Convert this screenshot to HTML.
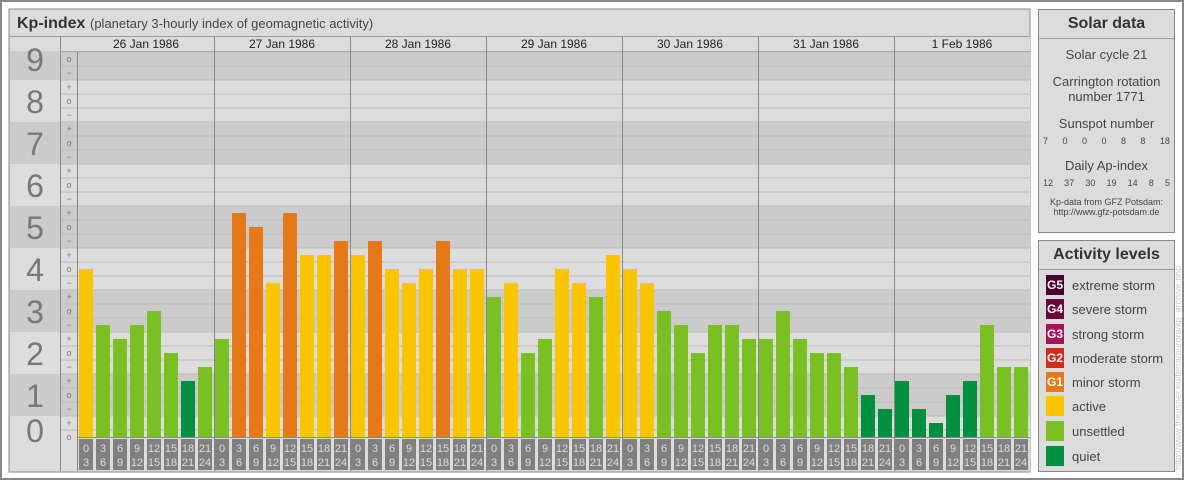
<!DOCTYPE html>
<html><head><meta charset="utf-8">
<style>
body{margin:0;width:1184px;height:480px;overflow:hidden;background:#fff;font-family:"Liberation Sans",sans-serif;}
#frame{position:absolute;left:0;top:0;width:1180px;height:476px;border:2px solid #888;}
.panel{position:absolute;background:#dcdcdc;border:1px solid #888;box-sizing:border-box;}
.ptitle{height:28px;border-bottom:1px solid #999;font-weight:bold;font-size:16px;color:#333;text-align:center;line-height:28px;}
.sd{text-align:center;color:#444;font-size:13px;}
.row{display:flex;justify-content:space-between;font-size:9px;color:#444;padding:0 4px;}
.leg{position:absolute;left:7px;height:20px;display:flex;align-items:center;font-size:13px;color:#444;}
.sw{width:18px;height:20px;margin-right:8px;color:#fff;font-size:12px;font-weight:bold;text-align:center;line-height:20px;}
</style></head><body>
<div id="frame"></div>
<svg id="chart" width="1184" height="480" style="position:absolute;left:0;top:0">
<rect x="9" y="9" width="1021" height="463" fill="#dcdcdc" stroke="#888"/>
<line x1="9" y1="36.5" x2="1030" y2="36.5" stroke="#999"/>
<text x="17" y="28" font-size="16" font-weight="bold" fill="#333">Kp-index</text>
<text x="90" y="28" font-size="13" fill="#444">(planetary 3-hourly index of geomagnetic activity)</text>
<g id="bands"></g><g id="grid"></g><g id="ylab"></g><g id="days"></g><g id="bars"></g><g id="times"></g>
</svg>
<div class="panel" style="left:1038px;top:9px;width:137px;height:224px">
<div class="ptitle">Solar data</div>
<div class="sd" style="margin-top:8px">Solar cycle 21</div>
<div class="sd" style="margin-top:12px;line-height:15px">Carrington rotation<br>number 1771</div>
<div class="sd" style="margin-top:12px">Sunspot number</div>
<div class="row" style="margin-top:5px"><span>7</span><span>0</span><span>0</span><span>0</span><span>8</span><span>8</span><span>18</span></div>
<div class="sd" style="margin-top:12px">Daily Ap-index</div>
<div class="row" style="margin-top:5px"><span>12</span><span>37</span><span>30</span><span>19</span><span>14</span><span>8</span><span>5</span></div>
<div class="sd" style="margin-top:9px;font-size:9px;line-height:10px">Kp-data from GFZ Potsdam:<br>http://www.gfz-potsdam.de</div>
</div>
<div class="panel" style="left:1038px;top:240px;width:137px;height:232px">
<div class="ptitle">Activity levels</div>
<div class="leg" style="top:34px"><div class="sw" style="background:#4a0030">G5</div>extreme storm</div>
<div class="leg" style="top:58px"><div class="sw" style="background:#6b0540">G4</div>severe storm</div>
<div class="leg" style="top:83px"><div class="sw" style="background:#a8105a">G3</div>strong storm</div>
<div class="leg" style="top:107px"><div class="sw" style="background:#d42a1a">G2</div>moderate storm</div>
<div class="leg" style="top:131px"><div class="sw" style="background:#e57918">G1</div>minor storm</div>
<div class="leg" style="top:155px"><div class="sw" style="background:#f8c500"></div>active</div>
<div class="leg" style="top:180px"><div class="sw" style="background:#7ac023"></div>unsettled</div>
<div class="leg" style="top:205px"><div class="sw" style="background:#009040"></div>quiet</div>
</div>
<div style="position:absolute;left:1173px;top:470px;transform:rotate(-90deg);transform-origin:0 0;font-size:9px;color:#c8c8c8;white-space:nowrap">http://www.theusner.eu/terra/aurora/kp_archive.php</div>
<script>
const days=["26 Jan 1986","27 Jan 1986","28 Jan 1986","29 Jan 1986","30 Jan 1986","31 Jan 1986","1 Feb 1986"];
const hourStart=["0","3","6","9","12","15","18","21"];
const hourEnd=["3","6","9","12","15","18","21","24"];
// Kp values in thirds (0o=0, 0+=1, 1-=2, 1o=3 ...)
const kpThirds=[12,8,7,8,9,6,4,5, 7,16,15,11,16,13,13,14, 13,14,12,11,12,14,12,12,
 10,11,6,7,12,11,10,13, 12,11,9,8,6,8,8,7, 7,9,7,6,6,5,3,2, 4,2,1,3,4,8,5,5];
const NS="http://www.w3.org/2000/svg";
const X0=78,SLOT=17,DAYW=136,BASE=437,UNIT=14;
const yOf=t=>BASE-UNIT*t;
const xOf=i=>X0+i*SLOT+1;
function mk(tag,attrs,parent){const e=document.createElementNS(NS,tag);for(const k in attrs)e.setAttribute(k,attrs[k]);document.getElementById(parent).appendChild(e);return e;}
const marks=["o","+","−"];
for(let n=9;n>=0;n--){
  const top=n==9?51:yOf(3*n+1)-7, bot=n==0?470:yOf(3*n-1)+7;
  const b=mk('rect',{x:10,y:top,width:1020,height:bot-top,fill:n%2?'#cbcbcb':'#dddddd'},'bands');
  
  
  const cy=n==0?yOf(0.5):yOf(3*n);
  const d=mk('text',{x:35,y:cy+12,'font-size':32,fill:'#777','text-anchor':'middle'},'ylab');
  
  
  d.textContent=n;
}
mk('rect',{x:78,y:437,width:952,height:34,fill:'#dcdcdc'},'bands');
for(let t=0;t<=27;t++){
  const l=mk('line',{x1:60,x2:1030,y1:yOf(t)-7,y2:yOf(t)-7,stroke:'#bbb'},'grid');
  const m=mk('text',{x:69,y:yOf(t)+3,'font-size':9,fill:'#777','text-anchor':'middle'},'ylab');
  
  
  m.textContent=marks[t%3];
}
mk('line',{x1:60.5,x2:60.5,y1:37,y2:471,stroke:'#888'},'grid');
mk('line',{x1:77.5,x2:77.5,y1:37,y2:471,stroke:'#888'},'grid');
mk('line',{x1:60,x2:1030,y1:51.5,y2:51.5,stroke:'#aaa'},'grid');
mk('rect',{x:61,y:37,width:969,height:14,fill:'#dcdcdc'},'grid');
days.forEach((d,i)=>{
  const x=X0+i*DAYW;
  if(i>0) mk('line',{x1:x+0.5,x2:x+0.5,y1:37,y2:471,stroke:'#888'},'days');
  const t=mk('text',{x:x+DAYW/2,y:48,'font-size':12,fill:'#222','text-anchor':'middle'},'days');
  
  
  t.textContent=d;
});
const col=t=>t<=4?'#009040':t<=10?'#7ac023':t<=13?'#f8c500':'#e57918';
kpThirds.forEach((t,i)=>{
  const r=mk('rect',{x:xOf(i),y:yOf(t),width:14,height:BASE-yOf(t),fill:col(t)},'bars');
  
  
  const h=i%8;
  const bx=mk('rect',{x:xOf(i),y:439,width:14,height:31,fill:'#808080'},'times');
  
  
  const a=mk('text',{x:xOf(i)+7,y:452,'font-size':11,fill:'#ddd','text-anchor':'middle'},'times');
  
  
  a.textContent=hourStart[h];
  const b=mk('text',{x:xOf(i)+7,y:466,'font-size':11,fill:'#ddd','text-anchor':'middle'},'times');
  
  
  b.textContent=hourEnd[h];
});
mk('line',{x1:78,x2:1030,y1:437.5,y2:437.5,stroke:'#888'},'times');
</script>
</body></html>
